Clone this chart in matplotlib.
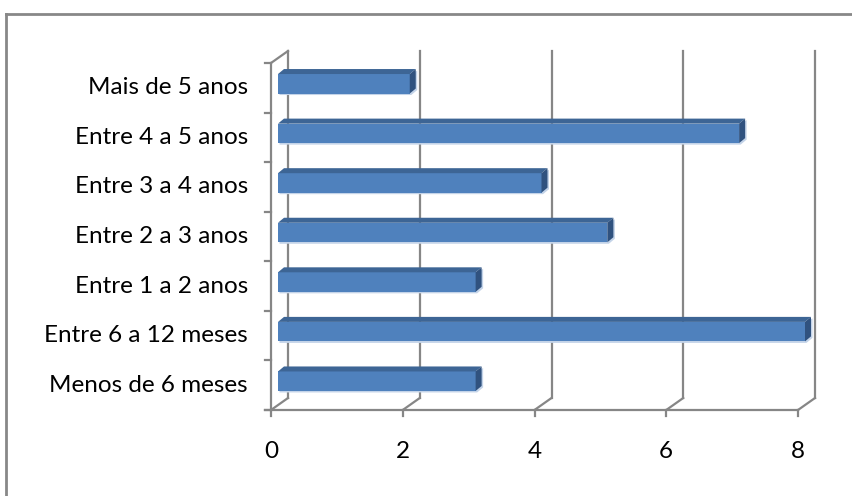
import matplotlib
matplotlib.use("Agg")
import matplotlib.pyplot as plt
from matplotlib.patches import Polygon, Rectangle
from matplotlib.lines import Line2D

# Data (bottom to top)
categories = ["Menos de 6 meses", "Entre 6 a 12 meses", "Entre 1 a 2 anos",
              "Entre 2 a 3 anos", "Entre 3 a 4 anos", "Entre 4 a 5 anos",
              "Mais de 5 anos"]
values = [3, 8, 3, 5, 4, 7, 2]
xticks = [0, 2, 4, 6, 8]

W, H, DPI = 853, 496, 100
fig = plt.figure(figsize=(W / DPI, H / DPI), dpi=DPI)
fig.patch.set_facecolor("white")

# Front plane of the 3-D plot area (pixel box)
L, R, T, B = 271, 798, 63, 410
ax = fig.add_axes([L / W, 1 - B / H, (R - L) / W, (B - T) / H])
ax.set_xlim(0, 8)
ax.set_ylim(-0.5, len(categories) - 0.5)
ax.axis("off")

# pixel -> data conversion
kx = 8 / (R - L)
ky = len(categories) / (B - T)

grid_col = "#868686"
lw = 1.6
font = "Lato"
fsize = 17.5
depth_x, depth_y = 17 * kx, 12 * ky
y0, y1 = -0.5, len(categories) - 0.5

# back wall gridlines
for xv in xticks:
    ax.add_line(Line2D([xv + depth_x, xv + depth_x], [y0 + depth_y, y1 + depth_y],
                       color=grid_col, lw=lw, clip_on=False, zorder=1))
    # floor diagonals
    ax.add_line(Line2D([xv, xv + depth_x], [y0, y0 + depth_y],
                       color=grid_col, lw=lw, clip_on=False, zorder=1))
    # tick marks below the floor edge
    ax.add_line(Line2D([xv, xv], [y0, y0 - 6 * ky],
                       color=grid_col, lw=lw, clip_on=False, zorder=1))
    ax.text(xv, y0 - 42 * ky, str(xv), ha="center", va="center",
            fontsize=fsize, family=font, color="black")

# floor front edge
ax.add_line(Line2D([-6 * kx, 8], [y0, y0], color=grid_col, lw=lw,
                   clip_on=False, zorder=1))
# left wall front edge and top diagonal
ax.add_line(Line2D([0, 0], [y0, y1], color=grid_col, lw=lw, clip_on=False, zorder=1))
ax.add_line(Line2D([0, depth_x], [y1, y1 + depth_y], color=grid_col, lw=lw,
                   clip_on=False, zorder=1))
for i in range(len(categories) + 1):
    yb = y0 + i
    ax.add_line(Line2D([-6 * kx, 0], [yb, yb], color=grid_col, lw=lw,
                       clip_on=False, zorder=1))

# bars
front_col = "#4F81BD"
top_col = "#3D6595"
side_col = "#30527F"
shadow_col = "#C3D3E8"
off_x, off_y = 7 * kx, 4 * ky
bh = 19.5 * ky
bdx, bdy = 6 * kx, 5 * ky
for i, (cat, v) in enumerate(zip(categories, values)):
    x0 = off_x
    x1 = off_x + v
    yb = i + off_y - bh / 2
    yt = i + off_y + bh / 2
    sx, sy = 1.5 * kx, 1.5 * ky
    ax.add_patch(Polygon([(x0 + sx, yb - sy), (x1 + sx, yb - sy),
                          (x1 + bdx + sx, yb + bdy - sy), (x1 + bdx + sx, yt + bdy - sy),
                          (x1 + sx, yt), (x0 + sx, yt)],
                         closed=True, fc=shadow_col, ec="none", zorder=2, clip_on=False))
    ax.add_patch(Rectangle((x0, yb), v, bh, fc=front_col, ec="none", zorder=3,
                           clip_on=False))
    ax.add_patch(Polygon([(x0, yt), (x1, yt), (x1 + bdx, yt + bdy), (x0 + bdx, yt + bdy)],
                         closed=True, fc=top_col, ec="none", zorder=3, clip_on=False))
    ax.add_patch(Polygon([(x1, yb), (x1, yt), (x1 + bdx, yt + bdy), (x1 + bdx, yb + bdy)],
                         closed=True, fc=side_col, ec="none", zorder=3, clip_on=False))
    ax.text(-23 * kx, i, cat, ha="right", va="center", fontsize=fsize,
            family=font, color="black")

# chart area border (top and left edges visible)
fig.add_artist(Line2D([6 / W, 6 / W], [0, 1 - 14 / H], color="#888888", lw=2,
                      transform=fig.transFigure))
fig.add_artist(Line2D([6 / W, 1], [1 - 14 / H, 1 - 14 / H], color="#888888", lw=2,
                      transform=fig.transFigure))

fig.savefig("out.png", dpi=DPI)
